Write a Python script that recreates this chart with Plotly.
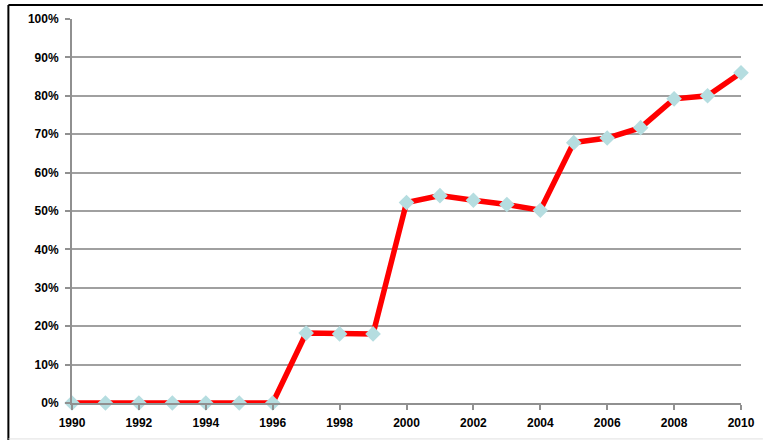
import plotly.graph_objects as go

years = list(range(1990, 2011))
values = [0, 0, 0, 0, 0, 0, 0, 18.2, 18, 18, 52.2, 54, 52.8, 51.7, 50.2,
          67.8, 69, 71.7, 79.2, 80, 86]
y_ticks = list(range(0, 101, 10))
y_labels = [f"{v}%" for v in y_ticks]
x_ticks = list(range(1990, 2011, 2))

fig = go.Figure()
fig.add_trace(go.Scatter(
    x=years, y=values, mode="lines+markers",
    line=dict(color="#ff0000", width=5.5),
    marker=dict(symbol="diamond", size=12, color="#b5dde0",
                line=dict(width=0)),
    cliponaxis=False,
))

tickfont = dict(family="Liberation Sans", size=12, color="black", weight="bold")

fig.update_layout(
    width=767, height=442,
    margin=dict(l=72, r=22, t=19, b=38),
    plot_bgcolor="white", paper_bgcolor="white",
    showlegend=False,
    font=dict(family="Liberation Sans", size=12, color="black"),
    xaxis=dict(range=[1990, 2010], tickvals=x_ticks,
               ticktext=[str(v) for v in x_ticks],
               showgrid=False, zeroline=False,
               showline=True, linecolor="#909090", linewidth=2,
               ticks="outside", ticklen=5, tickcolor="#909090", tickwidth=2,
               ticklabelstandoff=3,
               tickfont=tickfont),
    yaxis=dict(range=[0, 100], tickvals=y_ticks, ticktext=y_labels,
               showgrid=True, gridcolor="#a0a0a0", gridwidth=1.5,
               zeroline=False,
               showline=True, linecolor="#909090", linewidth=2,
               ticks="outside", ticklen=5, tickcolor="#909090", tickwidth=2,
               ticklabelstandoff=4,
               tickfont=tickfont),
    shapes=[
        dict(type="line", xref="paper", yref="paper",
             x0=(8 - 72) / 673, x1=(767 - 72) / 673,
             y0=(404 - 5) / 385, y1=(404 - 5) / 385,
             line=dict(color="black", width=2)),
        dict(type="line", xref="paper", yref="paper",
             x0=(8 - 72) / 673, x1=(8 - 72) / 673,
             y0=(404 - 5) / 385, y1=(404 - 441) / 385,
             line=dict(color="black", width=2)),
        dict(type="line", xref="paper", yref="paper",
             x0=(8 - 72) / 673, x1=(767 - 72) / 673,
             y0=(404 - 440) / 385, y1=(404 - 440) / 385,
             line=dict(color="#e0e0e0", width=1)),
    ],
)

fig.write_html("out.html", config={"displayModeBar": False},
               post_script="document.body.style.margin='0';document.body.style.overflow='hidden';")
